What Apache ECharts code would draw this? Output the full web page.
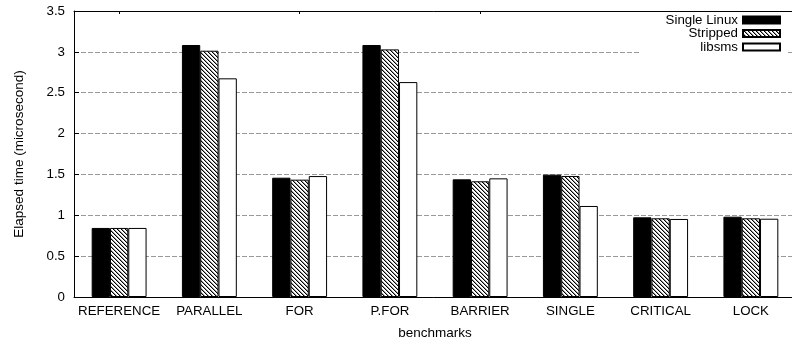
<!DOCTYPE html>
<html>
<head>
<meta charset="utf-8">
<script src="https://cdn.jsdelivr.net/npm/echarts@6/dist/echarts.min.js"></script>
<style>
html,body{margin:0;padding:0;background:#fff;}
#chart{width:792px;height:341px;}
</style>
</head>
<body>
<div id="chart"></div>
<script>
const categories = ['REFERENCE', 'PARALLEL', 'FOR', 'P.FOR', 'BARRIER', 'SINGLE', 'CRITICAL', 'LOCK'];
const singleLinux = [0.845, 3.084, 1.46, 3.084, 1.44, 1.497, 0.975, 0.983];
const stripped    = [0.845, 3.014, 1.436, 3.03, 1.416, 1.481, 0.963, 0.963];
const libsms      = [0.845, 2.676, 1.48, 2.63, 1.452, 1.114, 0.955, 0.958];
const yTicks = [0, 0.5, 1, 1.5, 2, 2.5, 3, 3.5];

function hatch() {
  const c = document.createElement('canvas');
  c.width = 4; c.height = 4;
  const ctx = c.getContext('2d');
  ctx.fillStyle = '#fff';
  ctx.fillRect(0, 0, 4, 4);
  ctx.fillStyle = '#000';
  for (let i = 0; i < 4; i++) ctx.fillRect(i, i, 1, 1);
  ctx.fillStyle = '#999';
  for (let i = 0; i < 4; i++) ctx.fillRect((i + 1) % 4, i, 1, 1);
  return c;
}

const font = 'Liberation Sans, Arial, sans-serif';
const chart = echarts.init(document.getElementById('chart'), null, {renderer: 'canvas'});
const bw = 18.3;
const option = {
  animation: false,
  backgroundColor: '#fff',
  textStyle: {fontFamily: font},
  grid: {left: 74, top: 11, bottom: 44, right: -4, containLabel: false, outerBoundsMode: 'none'},
  legend: {
    orient: 'vertical',
    align: 'right',
    right: 4,
    top: 12,
    padding: [1.5, 7, 5, 25],
    backgroundColor: '#fff',
    icon: 'rect',
    itemWidth: 37,
    itemHeight: 7,
    itemGap: 0.5,
    textStyle: {fontFamily: font, fontSize: 13.3, lineHeight: 13, color: '#000'},
    data: ['Single Linux', 'Stripped', 'libsms']
  },
  xAxis: [{
    type: 'category',
    data: categories,
    name: 'benchmarks',
    nameLocation: 'middle',
    nameGap: 29,
    nameTextStyle: {fontFamily: font, fontSize: 13.5, color: '#000'},
    axisLine: {lineStyle: {color: '#000', width: 1}},
    axisTick: {show: true, inside: true, alignWithLabel: true, length: 4, lineStyle: {color: '#000'}},
    axisLabel: {fontFamily: font, fontSize: 13.3, color: '#000', margin: 8, interval: 0},
    splitLine: {show: false}
  }, {
    type: 'category',
    data: categories,
    position: 'top',
    axisLine: {show: true, lineStyle: {color: '#000', width: 1}},
    axisTick: {show: true, inside: true, alignWithLabel: true, length: 3, lineStyle: {color: '#000'}},
    axisLabel: {show: false},
    splitLine: {show: false}
  }],
  yAxis: {
    type: 'value',
    min: 0, max: 3.5, interval: 0.5,
    name: 'Elapsed time (microsecond)',
    nameLocation: 'middle',
    nameGap: 48,
    nameTextStyle: {fontFamily: font, fontSize: 13.5, color: '#000'},
    axisLine: {show: true, lineStyle: {color: '#000', width: 1}},
    axisTick: {show: true, inside: true, length: 5, lineStyle: {color: '#000'}},
    axisLabel: {fontFamily: font, fontSize: 13.3, color: '#000', margin: 9,
      formatter: v => (yTicks.indexOf(v) >= 0 ? String(v) : '')},
    splitLine: {show: true, lineStyle: {color: '#999', type: [5, 2], width: 1}}
  },
  series: [
    {name: 'Single Linux', type: 'bar', data: singleLinux, barWidth: bw, barGap: '0%',
      itemStyle: {color: '#000', borderColor: '#000', borderWidth: 1}},
    {name: 'Stripped', type: 'bar', data: stripped, barWidth: bw, barGap: '0%',
      itemStyle: {color: {image: hatch(), repeat: 'repeat'}, borderColor: '#000', borderWidth: 1}},
    {name: 'libsms', type: 'bar', data: libsms, barWidth: bw, barGap: '0%',
      itemStyle: {color: '#fff', borderColor: '#000', borderWidth: 1}}
  ]
};
chart.setOption(option);
</script>
</body>
</html>
